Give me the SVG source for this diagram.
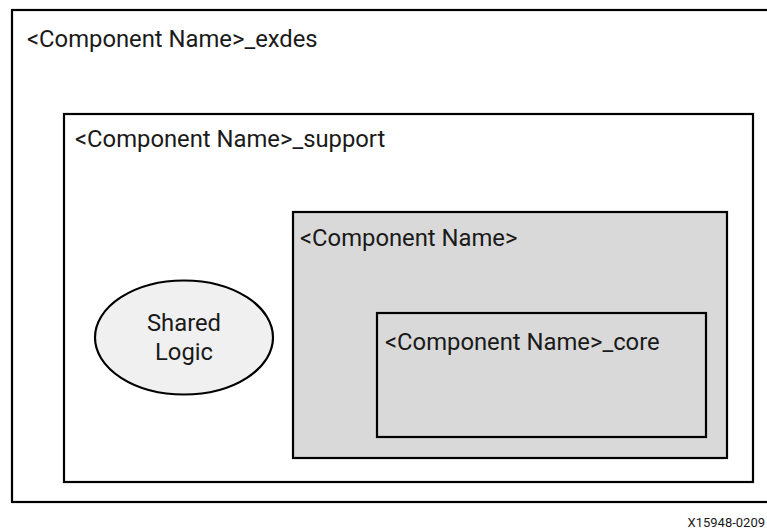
<svg xmlns="http://www.w3.org/2000/svg" width="767" height="531" viewBox="0 0 767 531">
<style>
.box{stroke:#000;stroke-width:2.2;}
.lbl{font-family:Roboto,"Liberation Sans",sans-serif;font-size:23.8px;fill:#1a1a1a;}
</style>
<rect width="767" height="531" fill="#fff"/>
<g id="exdes">
<rect class="box" x="12" y="10" width="762" height="492" fill="#fff"/>
<text class="lbl" x="27" y="47">&lt;Component Name&gt;_exdes</text>
</g>
<g id="support">
<rect class="box" x="64" y="114" width="689" height="368" fill="#fff"/>
<text class="lbl" x="75" y="147">&lt;Component Name&gt;_support</text>
</g>
<g id="component">
<rect class="box" x="293" y="212" width="434" height="246" fill="#d9d9d9"/>
<text class="lbl" x="300" y="246">&lt;Component Name&gt;</text>
</g>
<g id="core">
<rect class="box" x="377" y="313" width="329" height="124" fill="#d9d9d9"/>
<text class="lbl" x="385" y="350">&lt;Component Name&gt;_core</text>
</g>
<g id="shared_logic">
<ellipse class="box" cx="184" cy="337.5" rx="89" ry="57" fill="#f0f0f0"/>
<text class="lbl" x="184" y="331" text-anchor="middle">Shared</text>
<text class="lbl" x="184" y="360" text-anchor="middle">Logic</text>
</g>
<g id="connectors"></g>
<text x="765" y="527" text-anchor="end" style="font-family:Roboto,'Liberation Sans',sans-serif;font-size:13px;fill:#1a1a1a">X15948-0209</text>
</svg>
